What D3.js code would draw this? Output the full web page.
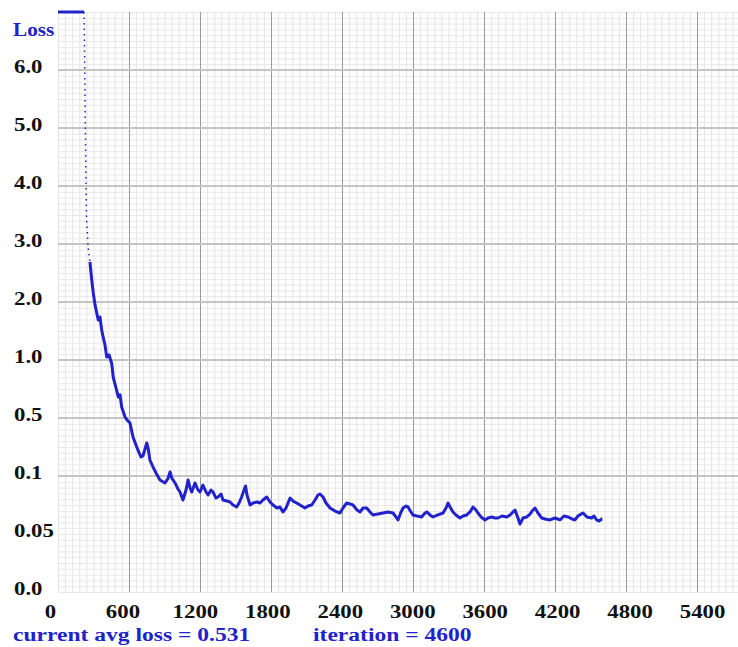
<!DOCTYPE html>
<html><head><meta charset="utf-8">
<script src="https://cdn.jsdelivr.net/npm/d3@7"></script>
<style>html,body{margin:0;padding:0;background:#fff;} svg{display:block;}</style>
</head><body>
<svg id="chart" width="738" height="647"></svg>
<script>
// ---- data ----
const iterations = [0,50,100,150,200,220,225,230,235,240,254,270,285,298,313,340,355,369,383,397,412,431,454,467,490,510,524,538,566,583,608,634,659,676,701,718,750,761,777,803,828,862,904,930,947,963,989,1014,1031,1056,1082,1099,1116,1130,1158,1183,1200,1225,1251,1268,1293,1310,1335,1352,1378,1394,1428,1454,1479,1510,1530,1552,1572,1585,1597,1623,1648,1682,1707,1732,1764,1792,1817,1851,1876,1901,1927,1961,1986,2017,2045,2087,2113,2144,2172,2197,2214,2240,2265,2299,2341,2383,2408,2440,2468,2493,2527,2552,2578,2609,2637,2662,2704,2747,2789,2831,2856,2873,2899,2916,2941,2958,2983,3000,3034,3074,3093,3116,3144,3169,3211,3254,3279,3296,3313,3338,3363,3397,3423,3454,3482,3507,3532,3549,3575,3609,3634,3665,3693,3718,3752,3792,3820,3845,3862,3887,3904,3930,3961,3989,4014,4031,4056,4088,4116,4158,4200,4242,4276,4310,4344,4369,4394,4420,4437,4470,4510,4530,4552,4572,4595,4600];
const losses = [9.5,9.0,8.6,8.1,7.6,7.0,6.17,5.14,4.28,3.5,2.95,2.69,2.38,2.16,1.95,1.69,1.74,1.52,1.38,1.26,1.05,1.09,0.97,0.85,0.76,0.68,0.70,0.595,0.51,0.486,0.466,0.369,0.314,0.279,0.231,0.238,0.328,0.293,0.21,0.162,0.121,0.0966,0.094,0.098,0.128,0.098,0.094,0.0888,0.0862,0.0793,0.0879,0.0966,0.0897,0.0862,0.094,0.0879,0.0862,0.0922,0.0862,0.0836,0.0879,0.0862,0.081,0.0819,0.0845,0.0793,0.0784,0.0776,0.075,0.0733,0.0767,0.0819,0.0879,0.0914,0.0836,0.075,0.0767,0.0776,0.0767,0.0793,0.0819,0.0776,0.075,0.0724,0.0733,0.069,0.0724,0.081,0.0784,0.0767,0.075,0.0724,0.0741,0.075,0.0793,0.0836,0.0845,0.0819,0.0767,0.0724,0.0698,0.0681,0.0724,0.0767,0.0759,0.075,0.0707,0.069,0.0724,0.0724,0.069,0.0664,0.0672,0.0681,0.069,0.0681,0.0647,0.0621,0.069,0.0724,0.0741,0.0733,0.069,0.0664,0.0655,0.0647,0.0672,0.069,0.0664,0.0647,0.0664,0.0681,0.0724,0.0767,0.0733,0.069,0.0664,0.0638,0.0655,0.0664,0.069,0.0733,0.0707,0.0681,0.0647,0.0621,0.0638,0.0647,0.0638,0.0638,0.0655,0.0647,0.0664,0.069,0.0707,0.0638,0.0586,0.0638,0.0647,0.0672,0.0707,0.0724,0.0681,0.0638,0.0629,0.0621,0.0638,0.0621,0.0655,0.0647,0.0629,0.0621,0.0655,0.0672,0.0681,0.0647,0.0638,0.0655,0.0621,0.0612,0.0629,0.063];
const xTickValues = [0,600,1200,1800,2400,3000,3600,4200,4800,5400];
const xTickLabels = ["0","600","1200","1800","2400","3000","3600","4200","4800","5400"];
const yBreaks = [0,0.05,0.1,0.5,1,2,3,4,5,6,7];
const yTickValues = [0,0.05,0.1,0.5,1,2,3,4,5,6];
const yTickLabels = ["0.0","0.05","0.1","0.5","1.0","2.0","3.0","4.0","5.0","6.0"];
const yTitle = "Loss";
const statusLeft = "current avg loss = 0.531";
const statusRight = "iteration = 4600";

// ---- layout ----
const W = 738, H = 647;
const pLeft = 58, pTop = 12, pBottom = 592, pRight = 738;
const FONT = "'Liberation Serif','Times New Roman',serif";
const BLUE = "#2222cc";

const svg = d3.select("#chart");
svg.append("rect").attr("width", W).attr("height", H).attr("fill", "#fff");

const x = d3.scaleLinear().domain([0, 6000]).range([pLeft, pLeft + 710]);
const y = d3.scaleLinear().domain(yBreaks)
  .range(yBreaks.map((d, i) => pBottom - i * (pBottom - pTop) / (yBreaks.length - 1)))
  .clamp(true);

// ---- grid ----
const grid = svg.append("g");
const minorX = d3.range(0, 6000, 60).filter(v => x(v) <= pRight);
grid.selectAll("line.mx").data(minorX).join("line")
  .attr("x1", d => x(d) + 0.5).attr("x2", d => x(d) + 0.5)
  .attr("y1", pTop).attr("y2", pBottom)
  .attr("stroke", "#e4e4e4").attr("stroke-width", 1);
const minorY = [];
for (let i = 0; i < yBreaks.length - 1; i++) {
  for (let k = 0; k < 10; k++) minorY.push(yBreaks[i] + (yBreaks[i + 1] - yBreaks[i]) * k / 10);
}
minorY.push(yBreaks[yBreaks.length - 1]);
grid.selectAll("line.my").data(minorY).join("line")
  .attr("x1", pLeft).attr("x2", pRight)
  .attr("y1", d => y(d) + 0.5).attr("y2", d => y(d) + 0.5)
  .attr("stroke", "#e8e8e8").attr("stroke-width", 1);
grid.selectAll("line.Mx").data(xTickValues.filter(v => v > 0)).join("line")
  .attr("x1", d => x(d) + 0.5).attr("x2", d => x(d) + 0.5)
  .attr("y1", pTop).attr("y2", pBottom)
  .attr("stroke", "#9a9a9a").attr("stroke-width", 1);
grid.selectAll("line.My").data(yTickValues.filter(v => v >= 0.1)).join("line")
  .attr("x1", pLeft).attr("x2", pRight)
  .attr("y1", d => y(d)).attr("y2", d => y(d))
  .attr("stroke", "#c4c4c4").attr("stroke-width", 2);

// ---- loss curve ----
const pts = iterations.map((it, i) => ({ it, v: losses[i] }));
const line = d3.line().x(d => x(d.it)).y(d => y(d.v));
svg.append("path").datum(pts.filter(d => d.it <= 220))
  .attr("d", line).attr("fill", "none").attr("stroke", BLUE).attr("stroke-width", 3);
svg.append("path").datum(pts.filter(d => d.it >= 220 && d.it <= 270))
  .attr("d", line).attr("fill", "none").attr("stroke", BLUE).attr("stroke-width", 1.5)
  .attr("stroke-dasharray", "1.5,4");
svg.append("path").datum(pts.filter(d => d.it >= 270))
  .attr("d", line).attr("fill", "none").attr("stroke", BLUE).attr("stroke-width", 3)
  .attr("stroke-linejoin", "round");

// ---- axes ----
const xAxis = svg.append("g").attr("transform", `translate(0,618)`)
  .call(d3.axisBottom(x).tickValues(xTickValues).tickFormat((d, i) => xTickLabels[i]).tickSize(0));
xAxis.select(".domain").remove();
xAxis.selectAll("text")
  .attr("y", 0).attr("dy", 0).attr("x", 0)
  .attr("transform", (d, i) => `translate(${-8 + 1.45 * i},0) scale(1.2,1)`)
  .attr("text-anchor", "middle")
  .style("font-family", FONT).style("font-weight", "bold").style("font-size", "19px").attr("fill", "#111");

const yAxis = svg.append("g")
  .call(d3.axisLeft(y).tickValues(yTickValues).tickFormat((d, i) => yTickLabels[i]).tickSize(0));
yAxis.select(".domain").remove();
yAxis.selectAll("text")
  .attr("x", 0).attr("dy", 0).attr("y", 0)
  .attr("transform", "translate(14,2) scale(1.2,1)")
  .attr("text-anchor", "start")
  .style("font-family", FONT).style("font-weight", "bold").style("font-size", "19px").attr("fill", "#111");

// ---- texts ----
svg.append("text").text(yTitle)
  .attr("transform", "translate(13,36) scale(1.18,1)")
  .style("font-family", FONT).style("font-weight", "bold").style("font-size", "18px").attr("fill", BLUE);
svg.append("text").text(statusLeft)
  .attr("transform", "translate(13,641) scale(1.24,1)")
  .style("font-family", FONT).style("font-weight", "bold").style("font-size", "19px").attr("fill", BLUE);
svg.append("text").text(statusRight)
  .attr("transform", "translate(313,641) scale(1.24,1)")
  .style("font-family", FONT).style("font-weight", "bold").style("font-size", "19px").attr("fill", BLUE);
</script>
</body></html>
